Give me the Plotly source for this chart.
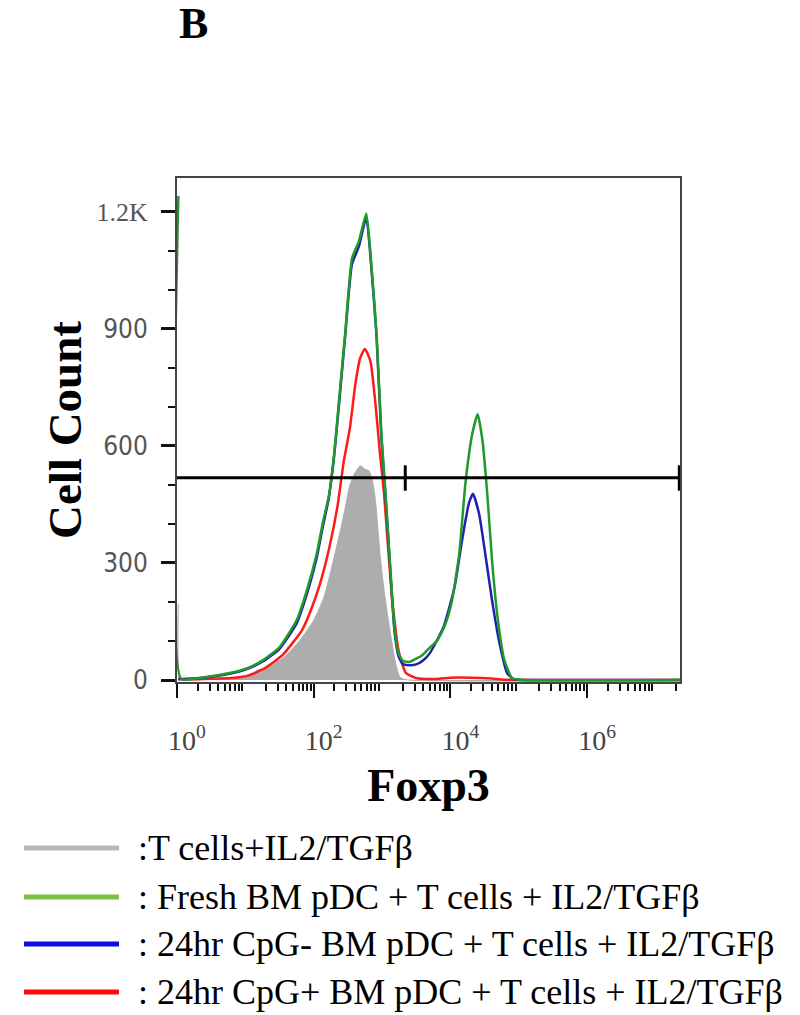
import math
import plotly.graph_objects as go

# ---------------- data (x = log10 Foxp3 intensity, y = cell count) ----------------
series_names = [
    ":T cells+IL2/TGFβ",
    ": Fresh BM pDC + T cells + IL2/TGFβ",
    ": 24hr CpG- BM pDC + T cells + IL2/TGFβ",
    ": 24hr CpG+ BM pDC + T cells + IL2/TGFβ",
]

gray_x = [0.02, 0.06, 0.50, 0.73, 1.00, 1.22, 1.57, 1.80, 2.00, 2.15, 2.28, 2.34, 2.39, 2.46, 2.53,
          2.60, 2.68, 2.75, 2.81, 2.86, 2.90, 2.97, 3.03, 3.09, 3.15, 3.20, 3.26, 3.35, 7.36]
gray_y = [195, 2, 3, 5, 11, 20, 59, 102, 153, 212, 300, 345, 383, 440, 500,
          530, 549, 540, 536, 510, 467, 324, 230, 157, 90, 42, 8, 1, 0]

green_x = [0.02, 0.06, 0.35, 0.77, 1.05, 1.26, 1.50, 1.75, 1.90, 2.04, 2.13, 2.22, 2.30, 2.37, 2.46,
           2.56, 2.66, 2.77, 2.84, 2.92, 2.99, 3.05, 3.12, 3.18, 3.24, 3.30, 3.40, 3.50, 3.58, 3.68,
           3.81, 3.92, 4.02, 4.13, 4.22, 4.32, 4.40, 4.47, 4.54, 4.61, 4.69, 4.79, 4.90, 5.00, 7.36]
green_y = [1240, 3, 6, 18, 32, 51, 84, 153, 230, 320, 400, 470, 580, 715, 886,
           1080, 1123, 1195, 1072, 886, 630, 480, 289, 136, 69, 50, 46, 55, 62, 80,
           102, 140, 200, 324, 503, 630, 681, 613, 477, 306, 161, 51, 5, 1, 0]

blue_x = [0.02, 0.06, 0.35, 0.77, 1.05, 1.26, 1.50, 1.75, 1.90, 2.04, 2.13, 2.22, 2.30, 2.37, 2.46,
          2.56, 2.66, 2.77, 2.84, 2.92, 2.99, 3.05, 3.12, 3.18, 3.24, 3.30, 3.40, 3.50, 3.60, 3.70,
          3.90, 4.06, 4.17, 4.27, 4.33, 4.42, 4.51, 4.61, 4.71, 4.83, 4.92, 5.00, 7.36]
blue_y = [2, 3, 5, 16, 30, 48, 80, 145, 220, 310, 390, 465, 575, 705, 880,
          1065, 1110, 1185, 1065, 880, 625, 475, 285, 130, 62, 42, 38, 40, 50, 69,
          136, 237, 357, 452, 477, 426, 324, 204, 102, 18, 3, 1, 0]

red_x = [0.02, 0.40, 0.85, 1.05, 1.30, 1.55, 1.83, 1.95, 2.09, 2.23, 2.35, 2.44, 2.53, 2.61, 2.68,
         2.75, 2.83, 2.90, 2.97, 3.03, 3.08, 3.15, 3.25, 3.35, 3.50, 3.80, 4.00, 4.30, 4.60, 4.80, 7.36]
red_y = [2, 3, 6, 12, 32, 65, 128, 175, 245, 340, 447, 560, 646, 758, 825,
         848, 817, 715, 580, 477, 360, 204, 69, 18, 5, 3, 6, 6, 4, 1, 0]

# gate (horizontal marker bar)
gate_level = 518
gate_x = [0.0, 3.34, 7.35]
gate_tick_low, gate_tick_high = 485, 550

x_tick_vals = [0, 2, 4, 6]
x_tick_text = ["10<sup>0</sup>", "10<sup>2</sup>", "10<sup>4</sup>", "10<sup>6</sup>"]
y_tick_vals = [0, 300, 600, 900, 1200]
y_tick_text = ["0", "300", "600", "900",
               "<span style='font-family:Liberation Serif'>1.2K</span>"]

panel_label = "B"
x_title = "Foxp3"
y_title = "Cell Count"

# ---------------- figure ----------------
W, H = 800, 1015
L, R, T, B = 177, 120, 178, 333
pw, ph = W - L - R, H - T - B

fig = go.Figure()

fig.add_trace(go.Scatter(x=gray_x, y=gray_y, mode="lines", fill="tozeroy",
                         fillcolor="#adadad", line=dict(color="#adadad", width=1, shape="spline", smoothing=0.5),
                         name=series_names[0], hoverinfo="skip"))
fig.add_trace(go.Scatter(x=red_x, y=red_y, mode="lines",
                         line=dict(color="#ff1a1a", width=2.5, shape="spline", smoothing=0.5),
                         name=series_names[3]))
fig.add_trace(go.Scatter(x=blue_x, y=blue_y, mode="lines",
                         line=dict(color="#2020b0", width=2.5, shape="spline", smoothing=0.5),
                         name=series_names[2]))
fig.add_trace(go.Scatter(x=green_x, y=green_y, mode="lines",
                         line=dict(color="#1f9a2a", width=2.5, shape="spline", smoothing=0.5),
                         name=series_names[1]))

# gate bar: horizontal line + end ticks
gx, gy = [gate_x[0], gate_x[-1]], [gate_level, gate_level]
for xv in gate_x[1:]:
    gx += [None, xv, xv]
    gy += [None, gate_tick_low, gate_tick_high]
fig.add_trace(go.Scatter(x=gx, y=gy, mode="lines", line=dict(color="black", width=3),
                         hoverinfo="skip", showlegend=False))

# minor ticks (log decades)
x_minor = []
for d in range(0, 8):
    for k in range(2, 10):
        v = d + math.log10(k)
        if v <= 7.36:
            x_minor.append(v)

fig.update_layout(
    width=W, height=H, autosize=False,
    margin=dict(l=L, r=R, t=T, b=B),
    paper_bgcolor="white", plot_bgcolor="white",
    showlegend=False,
    xaxis=dict(
        range=[0, 7.36], showgrid=False, zeroline=False,
        showline=True, linecolor="#444", linewidth=2, mirror=True,
        tickmode="array", tickvals=x_tick_vals, ticktext=x_tick_text,
        ticks="outside", ticklen=14, tickwidth=2, tickcolor="#111",
        tickfont=dict(family="Liberation Serif", size=28, color="#444"),
        ticklabelstandoff=18, ticklabelshift=10,
        minor=dict(tickmode="array", tickvals=x_minor, ticks="outside", ticklen=7,
                   tickwidth=1.5, tickcolor="#111", showgrid=False),
        title=dict(text=x_title, standoff=14,
                   font=dict(family="Liberation Serif", size=46, color="black", weight="bold")),
    ),
    yaxis=dict(
        range=[-5, 1286], showgrid=False, zeroline=False,
        showline=True, linecolor="#444", linewidth=2, mirror=True,
        tickmode="array", tickvals=y_tick_vals, ticktext=y_tick_text,
        ticks="outside", ticklen=14, tickwidth=2.5, tickcolor="#111",
        tickfont=dict(family="Liberation Sans Narrow, DejaVu Sans Condensed, Liberation Sans, sans-serif",
                      size=26, color="#555"),
        ticklabelstandoff=8,
        minor=dict(dtick=100, ticks="outside", ticklen=7, tickwidth=1.5, tickcolor="#111", showgrid=False),
        title=dict(text=y_title, standoff=0,
                   font=dict(family="Liberation Serif", size=47, color="black", weight="bold")),
    ),
)

def px_x(v):
    return (v - L) / pw

def px_y(v):
    return (H - B - v) / ph

# panel label
fig.add_annotation(text=panel_label, xref="paper", yref="paper", x=px_x(193), y=px_y(23),
                   xanchor="center", yanchor="middle", showarrow=False,
                   font=dict(family="Liberation Serif", size=44, color="black", weight="bold"))

# custom legend
legend_colors = ["#b8b8b8", "#7cc143", "#0a0ae6", "#ff0a0a"]
legend_y = [848, 897, 944, 992]
for name, col, yy in zip(series_names, legend_colors, legend_y):
    fig.add_shape(type="line", xref="paper", yref="paper",
                  x0=px_x(24), x1=px_x(119), y0=px_y(yy), y1=px_y(yy),
                  line=dict(color=col, width=5))
    fig.add_annotation(text=name, xref="paper", yref="paper", x=px_x(136), y=px_y(yy),
                       xanchor="left", yanchor="middle", showarrow=False,
                       font=dict(family="Liberation Serif", size=36, color="black"))

fig.write_html("out.html", config={"displayModeBar": False},
               post_script="document.body.style.margin='0';document.body.style.padding='0';")
